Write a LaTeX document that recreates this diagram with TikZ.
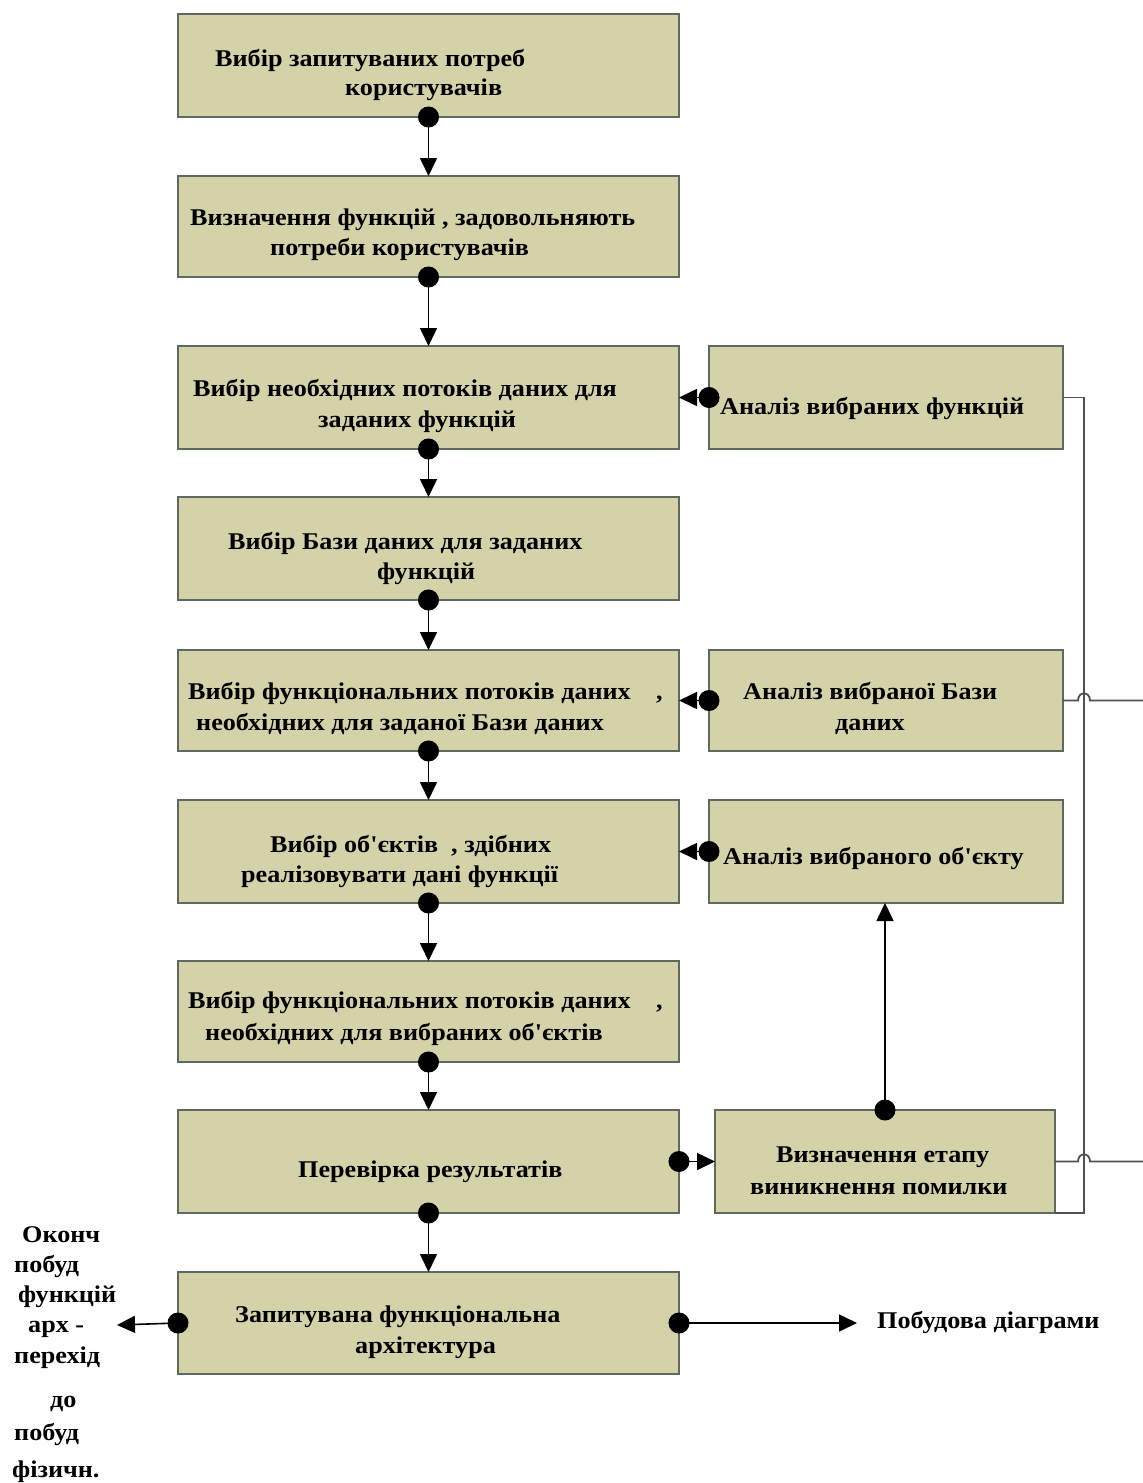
\documentclass[tikz,border=0pt]{standalone}
\usepackage{fontspec}
\setmainfont[FakeStretch=1.09]{Liberation Serif}
\usetikzlibrary{arrows.meta}
\definecolor{boxfill}{RGB}{212,210,168}
\definecolor{boxline}{RGB}{94,106,94}
\definecolor{railgray}{RGB}{80,80,80}
\newcommand\myap{{\addfontfeatures{Ligatures=TeXOff}'}}
\tikzset{
  box/.style={draw=boxline, fill=boxfill, line width=1.5pt, inner sep=0pt, outer sep=0pt, anchor=north west},
  mainbox/.style={box, minimum width=501pt},
  sidebox/.style={box, minimum width=354pt},
  txt/.style={anchor=base west, inner sep=0pt, font=\fontsize{24}{28}\bfseries\selectfont},
  flow/.style={line width=1.6pt, {Circle[length=21pt]}-{Triangle[length=18pt,width=17pt]}, shorten <=-10.5pt},
  rail/.style={draw=railgray, line width=1.8pt},
}
\begin{document}
\begin{tikzpicture}[x=1pt,y=-1pt]
\useasboundingbox (0,0) rectangle (1143,1483);
% main column
\node[mainbox, minimum height=103pt] (b1) at (178,14) {};
\node[mainbox, minimum height=101pt] (b2) at (178,176) {};
\node[mainbox, minimum height=103pt] (b3) at (178,346) {};
\node[mainbox, minimum height=103pt] (b4) at (178,497) {};
\node[mainbox, minimum height=101pt] (b5) at (178,650) {};
\node[mainbox, minimum height=103pt] (b6) at (178,800) {};
\node[mainbox, minimum height=101pt] (b7) at (178,961) {};
\node[mainbox, minimum height=103pt] (b8) at (178,1110) {};
\node[mainbox, minimum height=102pt] (b9) at (178,1272) {};
% side column
\node[sidebox, minimum height=103pt] (sa) at (709,346) {};
\node[sidebox, minimum height=101pt] (sb) at (709,650) {};
\node[sidebox, minimum height=103pt] (sc) at (709,800) {};
\node[box, minimum width=340pt, minimum height=103pt] (sd) at (715,1110) {};
% texts
\node[txt] (t1a) at (215,66) {Вибір запитуваних потреб};
\node[txt] (t1b) at (345,95) {користувачів};
\node[txt] (t2a) at (190,225) {Визначення функцій , задовольняють};
\node[txt] (t2b) at (270,255) {потреби користувачів};
\node[txt] (t3a) at (193,396) {Вибір необхідних потоків даних для};
\node[txt] (t3b) at (318,427) {заданих функцій};
\node[txt] (t4a) at (228,549) {Вибір Бази даних для заданих};
\node[txt] (t4b) at (377,579) {функцій};
\node[txt] (t5a) at (188,699) {Вибір функціональних потоків даних};
\node[txt] (t5c) at (656,699) {,};
\node[txt] (t5b) at (196,730) {необхідних для заданої Бази даних};
\node[txt] (t6a) at (270,852) {Вибір об\myap єктів};
\node[txt] (t6c) at (451,852) {, здібних};
\node[txt] (t6b) at (241,882) {реалізовувати дані функції};
\node[txt] (t7a) at (188,1008) {Вибір функціональних потоків даних};
\node[txt] (t7c) at (656,1008) {,};
\node[txt] (t7b) at (205,1040) {необхідних для вибраних об\myap єктів};
\node[txt] (t8a) at (298,1177) {Перевірка результатів};
\node[txt] (t9a) at (235,1322) {Запитувана функціональна};
\node[txt] (t9b) at (355,1353) {архітектура};
\node[txt] (tsa) at (720,414) {Аналіз вибраних функцій};
\node[txt] (tsb1) at (743,699) {Аналіз вибраної Бази};
\node[txt] (tsb2) at (835,730) {даних};
\node[txt] (tsc) at (723,864) {Аналіз вибраного об\myap єкту};
\node[txt] (tsd1) at (776,1162) {Визначення етапу};
\node[txt] (tsd2) at (750,1194) {виникнення помилки};
\node[txt] (out) at (877,1328) {Побудова діаграми};
% left text
\node[txt] (l1) at (22,1242) {Оконч};
\node[txt] (l2) at (14,1272) {побуд};
\node[txt] (l3) at (18,1302) {функцій};
\node[txt] (l4) at (28,1332) {арх -};
\node[txt] (l5) at (14,1363) {перехід};
\node[txt] (l6) at (50,1407) {до};
\node[txt] (l7) at (14,1440) {побуд};
\node[txt] (l8) at (12,1477) {фізичн.};
% connectors main column
\draw[flow] (b1.south) -- (b2.north);
\draw[flow] (b2.south) -- (b3.north);
\draw[flow] (b3.south) -- (b4.north);
\draw[flow] (b4.south) -- (b5.north);
\draw[flow] (b5.south) -- (b6.north);
\draw[flow] (b6.south) -- (b7.north);
\draw[flow] (b7.south) -- (b8.north);
\draw[flow] (b8.south) -- (b9.north);
% side connectors
\draw[flow] (sa.west) -- (b3.east);
\draw[flow] (sb.west) -- (b5.east);
\draw[flow] (sc.west) -- (b6.east);
\draw[flow] (b8.east) -- (sd.west);
\draw[flow] (sd.north) -- (sd.north |- sc.south);
\coordinate (leftend) at (117,1325);
\coordinate (rightend) at (857,1323);
\draw[flow] (b9.west) -- (leftend);
\draw[flow] (b9.east) -- (rightend);
% rail with hops
\coordinate (railtop) at (1084,397.5);
\draw[rail] (sa.east) -- (railtop) -- (railtop |- sd.south east) -- (sd.south east);
\coordinate (hopBa) at (1078,700.5);
\coordinate (hopBb) at (1090,700.5);
\coordinate (endB) at (1143,700.5);
\draw[rail] (sb.east) -- (hopBa) .. controls (1078,691) and (1090,691) .. (hopBb) -- (endB);
\coordinate (hopDa) at (1078,1161.5);
\coordinate (hopDb) at (1090,1161.5);
\coordinate (endD) at (1143,1161.5);
\draw[rail] (sd.east) -- (hopDa) .. controls (1078,1152) and (1090,1152) .. (hopDb) -- (endD);
\end{tikzpicture}
\end{document}
